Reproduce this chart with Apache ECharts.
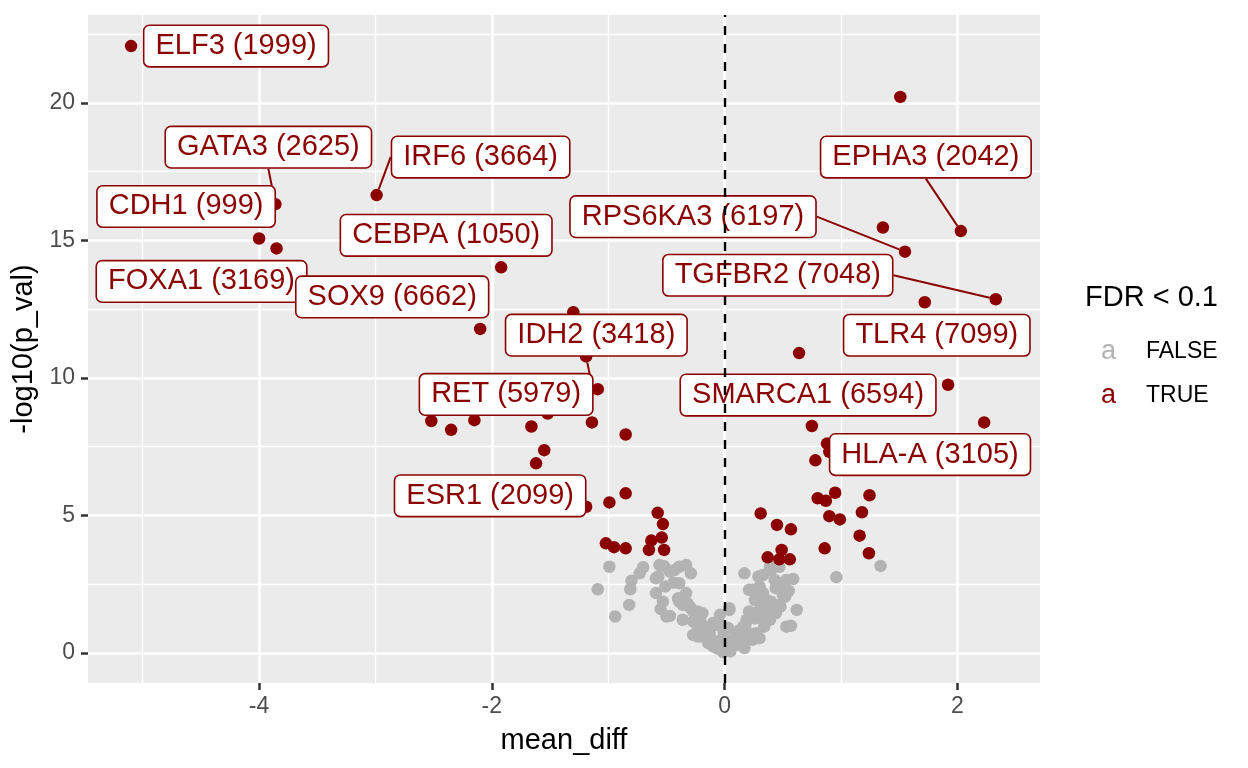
<!DOCTYPE html>
<html>
<head>
<meta charset="utf-8">
<title>volcano</title>
<script src="https://cdn.jsdelivr.net/npm/echarts@6/dist/echarts.min.js"></script>
<style>
  html, body { margin: 0; padding: 0; background: #fff; }
  #chart { width: 1248px; height: 768px; }
</style>
</head>
<body>
<div id="chart"></div>
<script>
// genes not passing FDR < 0.1
var falseX = [-0.99, -1.09, -0.94, -0.82, -0.81, -0.80, -0.73, -0.70, -0.56, -0.52, -0.57, -0.59, -0.59, -0.53, -0.55,
  -0.47, -0.50, -0.51, -0.43, -0.39, -0.33, -0.29, -0.39, -0.33, -0.40, -0.39, -0.36, -0.32, -0.30, -0.29,
  -0.27, -0.23, -0.21, -0.36, -0.27, -0.21, -0.24, -0.17, -0.27, -0.23, -0.20, -0.13, -0.11, -0.07, -0.04,
  -0.10, -0.14, -0.02, -0.10, -0.19, -0.14, -0.04, -0.07, -0.01, -0.01, -0.03, -0.08, -0.12, -0.16, -0.06,
  -0.18, -0.25, -0.44, -0.47, -0.04, -0.01,
  0.17, 0.29, 0.33, 0.40, 0.47, 0.39, 0.43, 0.49, 0.53, 0.59, 0.96, 1.34, 0.24, 0.21, 0.30,
  0.33, 0.26, 0.36, 0.44, 0.50, 0.52, 0.40, 0.47, 0.48, 0.34, 0.37, 0.62, 0.21, 0.29, 0.24,
  0.44, 0.29, 0.34, 0.19, 0.39, 0.53, 0.57, 0.34, 0.16, 0.04, 0.04, 0.13, 0.21, 0.10, 0.27,
  0.30, 0.21, 0.24, 0.07, 0.13, 0.16, 0.07, 0.13, 0.17, 0.01, 0.03, 0.05, 0.09, 0.11, 0.18,
  0.02, 0.26, 0.31, 0.55];
var falseY = [3.13, 2.31, 1.32, 1.74, 2.31, 2.62, 2.89, 3.11, 3.19, 3.15, 2.77, 2.71, 2.17, 1.86, 1.59,
  1.34, 1.32, 2.41, 3.01, 3.13, 3.19, 2.89, 2.53, 2.17, 1.98, 1.86, 1.74, 1.80, 1.68, 1.62,
  1.50, 1.50, 1.44, 1.20, 1.14, 1.20, 1.02, 0.95, 0.65, 0.59, 0.59, 0.71, 0.47, 1.02, 1.38,
  0.23, 0.35, 0.23, 1.08, 1.44, 0.83, 0.41, 0.23, 0.59, 0.02, 0.12, 0.30, 0.55, 0.78, 0.15,
  0.88, 1.28, 2.55, 2.95, 1.02, 0.80,
  2.89, 2.77, 2.83, 3.01, 3.13, 3.13, 2.65, 2.53, 2.65, 2.68, 2.75, 3.16, 2.29, 2.29, 2.41,
  2.17, 1.92, 1.92, 2.35, 2.11, 2.04, 1.86, 1.74, 1.68, 1.68, 1.56, 1.56, 1.50, 1.50, 1.44,
  1.44, 1.32, 1.14, 1.20, 1.20, 0.95, 0.98, 0.95, 0.95, 1.56, 1.62, 0.83, 0.71, 0.71, 0.71,
  0.53, 0.59, 0.47, 0.47, 0.47, 0.23, 0.23, 0.29, 0.17, 0.11, 0.90, 0.05, 0.35, 0.60, 1.05,
  0.30, 1.25, 1.80, 2.25];

// genes passing FDR < 0.1
var trueX = [-5.10, -3.86, -4.00, -3.85, -2.99, -1.92, -2.10, -1.30, -1.19, -1.09, -1.52, -2.52, -2.35, -2.15, -1.66,
  -1.14, -0.85, -1.55, -1.62, -1.19, -0.99, -0.85, -0.575, -0.53, -0.54, -0.63, -0.65, -0.52, -1.02, -0.95,
  -0.85, 0.31, 0.45, 0.57, 0.37, 0.49, 0.47, 0.56, 0.80, 0.87, 0.95, 0.90, 0.99, 0.86, 0.64,
  1.92, 2.23, 0.75, 0.88, 0.90, 0.78, 1.245, 1.18, 1.16, 1.24, 1.51, 2.03, 1.36, 1.55, 2.33, 1.72];
var trueY = [22.07, 16.32, 15.07, 14.71, 16.65, 14.02, 11.78, 12.39, 10.78, 9.59, 8.70, 8.43, 8.11, 8.46, 8.23,
  8.38, 7.94, 7.37, 6.89, 5.31, 5.47, 5.80, 5.09, 4.68, 4.19, 4.08, 3.74, 3.74, 3.98, 3.84,
  3.80, 5.07, 4.65, 4.49, 3.47, 3.74, 3.40, 3.40, 5.62, 5.53, 5.82, 4.97, 4.85, 3.80, 10.90,
  9.75, 8.38, 8.25, 7.61, 7.31, 7.00, 5.73, 5.11, 4.26, 3.62, 20.22, 15.34, 15.47, 14.59, 12.86, 12.75];
var trueGene = ["ELF3 (1999)", "GATA3 (2625)", "CDH1 (999)", "FOXA1 (3169)", "IRF6 (3664)", "CEBPA (1050)",
  "SOX9 (6662)", "IDH2 (3418)", "RET (5979)", "", "", "", "", "", "",
  "", "", "", "", "ESR1 (2099)", "", "", "", "", "", "", "", "", "", "",
  "", "", "", "", "", "", "", "", "", "", "", "", "", "", "SMARCA1 (6594)",
  "", "", "", "HLA-A (3105)", "", "", "", "", "", "", "", "EPHA3 (2042)", "", "RPS6KA3 (6197)",
  "TGFBR2 (7048)", "TLR4 (7099)"];

var xTicks = [-4, -2, 0, 2];
var yTicks = [0, 5, 10, 15, 20];

// where each repelled label sits relative to its point (px), and whether it gets a segment
var labelNudge = {
  "ELF3 (1999)": [105, 0, false],
  "GATA3 (2625)": [-7, -57, true],
  "CDH1 (999)": [-73, -32, false],
  "FOXA1 (3169)": [-75, 33, false],
  "IRF6 (3664)": [104, -38, true],
  "CEBPA (1050)": [-55, -32, false],
  "SOX9 (6662)": [-88, -32, false],
  "IDH2 (3418)": [23, 23, false],
  "RET (5979)": [-80, 38, true],
  "ESR1 (2099)": [-96, -11, false],
  "EPHA3 (2042)": [-35, -74, true],
  "RPS6KA3 (6197)": [-212, -35, true],
  "TGFBR2 (7048)": [-218, -24, true],
  "TLR4 (7099)": [12, 33, false],
  "SMARCA1 (6594)": [9, 42, false],
  "HLA-A (3105)": [103, 11, false]
};

var RED = "#8B0000";
var GREY = "#B3B3B3";

var falseData = [];
for (var i = 0; i < falseX.length; i++) {
  falseData.push([falseX[i], falseY[i]]);
}
var trueData = [];
for (var j = 0; j < trueX.length; j++) {
  var item = { value: [trueX[j], trueY[j]], name: trueGene[j] };
  if (trueGene[j]) {
    item.label = { show: true };
    item.labelLine = { show: labelNudge[trueGene[j]][2] };
  }
  trueData.push(item);
}

var myChart = echarts.init(document.getElementById("chart"));

var option = {
  animation: false,
  textStyle: { fontFamily: "Liberation Sans, Arial, sans-serif" },
  title: {
    text: "FDR < 0.1",
    left: 1085,
    top: 283,
    padding: 0,
    textStyle: { fontSize: 29, fontWeight: "normal", color: "#000" }
  },
  legend: {
    data: ["FALSE", "TRUE"],
    orient: "vertical",
    left: 1091,
    top: 333,
    itemWidth: 0,
    itemHeight: 0,
    itemGap: 17,
    selectedMode: false,
    formatter: function (name) {
      return name === "FALSE" ? "{f|a}{t|FALSE}" : "{r|a}{t|TRUE}";
    },
    textStyle: {
      rich: {
        f: { color: GREY, fontSize: 27, width: 45, lineHeight: 30 },
        r: { color: RED, fontSize: 27, width: 45, lineHeight: 30 },
        t: { color: "#000", fontSize: 23, lineHeight: 30 }
      }
    }
  },
  grid: {
    left: 88,
    right: 208,
    top: 15,
    bottom: 85,
    show: true,
    backgroundColor: "#EBEBEB",
    borderWidth: 0
  },
  xAxis: {
    type: "value",
    min: -5.47,
    max: 2.71,
    name: "mean_diff",
    nameLocation: "middle",
    nameGap: 43,
    nameTextStyle: { fontSize: 29, color: "#000" },
    axisLine: { show: false, onZero: false },
    axisTick: { show: true, length: 7, customValues: xTicks, lineStyle: { color: "#333333", width: 2.5 } },
    axisLabel: { color: "#4D4D4D", fontSize: 23, margin: 12, customValues: xTicks },
    splitLine: { show: true, lineStyle: { color: "#fff", width: 2.6 } },
    minorTick: { show: false, splitNumber: 2 },
    minorSplitLine: { show: true, lineStyle: { color: "#fff", width: 1.3 } }
  },
  yAxis: {
    type: "value",
    min: -1.1,
    max: 23.2,
    name: "-log10(p_val)",
    nameLocation: "middle",
    nameGap: 46,
    nameTextStyle: { fontSize: 29, color: "#000" },
    axisLine: { show: false, onZero: false },
    axisTick: { show: true, length: 7, customValues: yTicks, lineStyle: { color: "#333333", width: 2.5 } },
    axisLabel: { color: "#4D4D4D", fontSize: 23, margin: 13, customValues: yTicks },
    splitLine: { show: true, lineStyle: { color: "#fff", width: 2.6 } },
    minorTick: { show: false, splitNumber: 2 },
    minorSplitLine: { show: true, lineStyle: { color: "#fff", width: 1.3 } }
  },
  series: [
    {
      name: "FALSE",
      type: "scatter",
      z: 2,
      symbolSize: 12.5,
      itemStyle: { color: GREY, opacity: 1 },
      data: falseData
    },
    {
      name: "vline",
      type: "scatter",
      z: 3,
      data: [],
      markLine: {
        silent: true,
        symbol: "none",
        label: { show: false },
        lineStyle: { color: "#000", type: [9, 9], width: 2.4 },
        data: [{ xAxis: 0 }]
      }
    },
    {
      name: "TRUE",
      type: "scatter",
      z: 4,
      symbolSize: 12.5,
      itemStyle: { color: RED, opacity: 1 },
      label: {
        show: false,
        position: "inside",
        formatter: "{b}",
        color: RED,
        fontSize: 29,
        lineHeight: 30,
        backgroundColor: "#fff",
        borderColor: RED,
        borderWidth: 1.6,
        borderRadius: 5,
        padding: [5, 11, 5, 11]
      },
      labelLine: {
        show: false,
        lineStyle: { color: RED, width: 2 }
      },
      labelLayout: function (params) {
        var o = labelNudge[trueGene[params.dataIndex]];
        if (!o) return {};
        return { dx: o[0], dy: o[1] };
      },
      data: trueData
    }
  ]
};

myChart.setOption(option);
</script>
</body>
</html>
